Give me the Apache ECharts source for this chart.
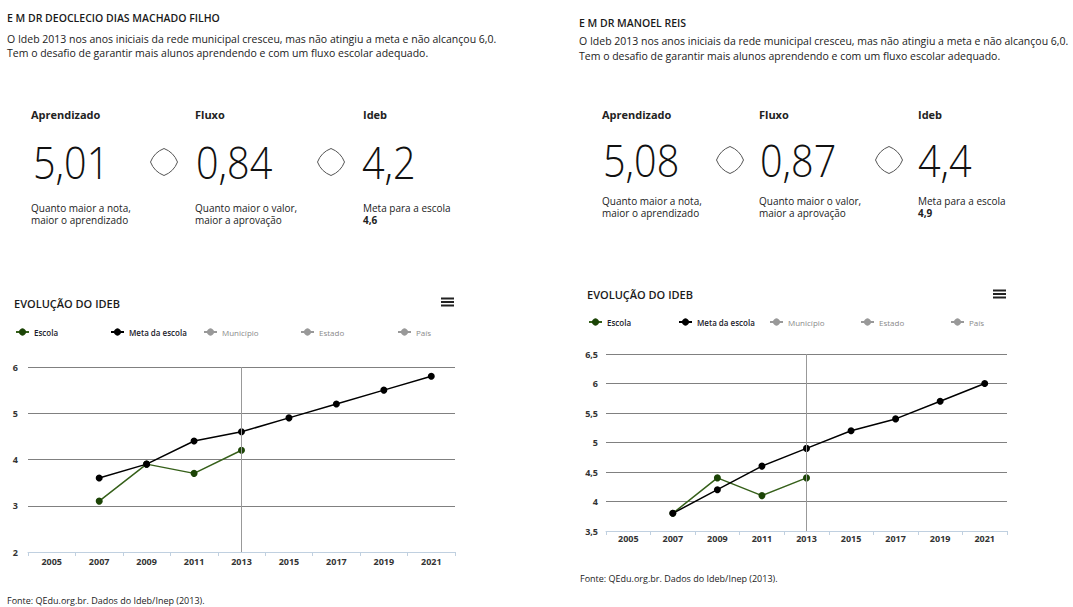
<!DOCTYPE html>
<html>
<head>
<meta charset="utf-8">
<script src="https://cdn.jsdelivr.net/npm/echarts@6/dist/echarts.min.js"></script>
<style>
html,body{margin:0;padding:0;background:#fff;}
#chart{width:1073px;height:607px;}
</style>
</head>
<body>
<div id="chart"></div>
<script>
// ---------- data ----------
const years = ['2005','2007','2009','2011','2013','2015','2017','2019','2021'];
const escolaA = [null, 3.1, 3.9, 3.7, 4.2, null, null, null, null];
const metaA   = [null, 3.6, 3.9, 4.4, 4.6, 4.9, 5.2, 5.5, 5.8];
const escolaB = [null, 3.8, 4.4, 4.1, 4.4, null, null, null, null];
const metaB   = [null, 3.8, 4.2, 4.6, 4.9, 5.2, 5.4, 5.7, 6.0];
const schoolNames = ['E M DR DEOCLECIO DIAS MACHADO FILHO', 'E M DR MANOEL REIS'];
const aprendizado = ['5,01', '5,08'];
const fluxo = ['0,84', '0,87'];
const ideb = ['4,2', '4,4'];
const metaEscola = ['4,6', '4,9'];
const descLines = [
  'O Ideb 2013 nos anos iniciais da rede municipal cresceu, mas não atingiu a meta e não alcançou 6,0.',
  'Tem o desafio de garantir mais alunos aprendendo e com um fluxo escolar adequado.'
];
const legendNames = ['Escola', 'Meta da escola', 'Município', 'Estado', 'País'];
const fonte = 'Fonte: QEdu.org.br. Dados do Ideb/Inep (2013).';

// ---------- layout ----------
const FONT = '"Open Sans", sans-serif';
const panels = [
  { x0: 7, titleY: 18, descY: [38.5, 53], metX: [31, 195, 363], numX: [33, 196, 362],
    labelY: 114.5, numY: 161, subY: [208, 220], dia: [164, 331], diaY: 162,
    chartTitle: [14, 303], burger: [441, 302], legY: 333,
    legX: [15, 110, 203, 300, 397], fonte: [7, 600.5] },
  { x0: 579, titleY: 22.5, descY: [41, 55.5], metX: [602, 759, 918], numX: [603, 760, 918],
    labelY: 114.5, numY: 159, subY: [201, 213], dia: [730, 889], diaY: 160,
    chartTitle: [587, 294], burger: [993, 294], legY: 323,
    legX: [588, 678, 769, 860, 950], fonte: [580, 578] }
];

function txt(x, y, text, size, extra, el) {
  return Object.assign({
    type: 'text', x: x, y: y, silent: true,
    style: Object.assign({ text: text, fontSize: size, fontFamily: FONT, fill: '#222',
      verticalAlign: 'middle', align: 'left' }, extra || {})
  }, el || {});
}

function diamond(cx, cy, r, c) {
  const pts = [[0, -r], [r, 0], [0, r], [-r, 0]];
  const out = [];
  for (let i = 0; i < 4; i++) {
    const a = pts[i], b = pts[(i + 1) % 4];
    const cxp = (a[0] + b[0]) * c, cyp = (a[1] + b[1]) * c;
    out.push({ type: 'bezierCurve', x: cx, y: cy, silent: true,
      shape: { x1: a[0], y1: a[1], x2: b[0], y2: b[1], cpx1: cxp, cpy1: cyp },
      style: { fill: 'none', stroke: '#555', lineWidth: 1 } });
  }
  return out;
}

const graphics = [];
panels.forEach(function (p, i) {
  graphics.push(txt(p.x0, p.titleY, schoolNames[i], 10.5, { fontWeight: 600, fill: '#1a1a1a' }));
  graphics.push(txt(p.x0, p.descY[0], descLines[0], 10.5));
  graphics.push(txt(p.x0, p.descY[1], descLines[1], 10.5));
  const labels = ['Aprendizado', 'Fluxo', 'Ideb'];
  const nums = [aprendizado[i], fluxo[i], ideb[i]];
  for (let k = 0; k < 3; k++) {
    graphics.push(txt(p.metX[k], p.labelY, labels[k], 11, { fontWeight: 'bold' }));
    graphics.push(txt(p.numX[k], p.numY, nums[k], 45, { fontWeight: 300, fill: '#111' }, { scaleX: 0.88 }));
  }
  graphics.push(txt(p.metX[0], p.subY[0], 'Quanto maior a nota,', 10));
  graphics.push(txt(p.metX[0], p.subY[1], 'maior o aprendizado', 10));
  graphics.push(txt(p.metX[1], p.subY[0], 'Quanto maior o valor,', 10));
  graphics.push(txt(p.metX[1], p.subY[1], 'maior a aprovação', 10));
  graphics.push(txt(p.metX[2], p.subY[0], 'Meta para a escola', 10));
  graphics.push(txt(p.metX[2], p.subY[1], metaEscola[i], 10, { fontWeight: 'bold' }));
  p.dia.forEach(function (cx) {
    diamond(cx, p.diaY, 13.5, 0.72).forEach(function (g) { graphics.push(g); });
  });
  graphics.push(txt(p.chartTitle[0], p.chartTitle[1], 'EVOLUÇÃO DO IDEB', 11, { fill: '#1a1a1a', fontWeight: 600 }));
  for (let b = 0; b < 3; b++) {
    graphics.push({ type: 'rect', silent: true,
      shape: { x: p.burger[0], y: p.burger[1] - 4.5 + b * 3.5, width: 13, height: 2 },
      style: { fill: '#222' } });
  }
  graphics.push(txt(p.fonte[0], p.fonte[1], fonte, 9));
});

// ---------- legends ----------
const legends = [];
panels.forEach(function (p) {
  legendNames.forEach(function (name, k) {
    const active = k < 2;
    legends.push({
      left: p.legX[k], top: p.legY - 5, selectedMode: false,
      itemWidth: 13, itemHeight: 9, padding: 0,
      textStyle: { fontSize: 8, fontFamily: FONT, fontWeight: active ? 600 : 'normal',
        color: active ? '#1a1a2a' : '#8a8a8a' },
      data: [name]
    });
  });
});

// ---------- series ----------
function mkSeries(gi, escola, meta) {
  const base = { type: 'line', xAxisIndex: gi, yAxisIndex: gi, symbol: 'circle', symbolSize: 7, silent: true };
  return [
    Object.assign({}, base, { name: 'Escola', data: escola,
      lineStyle: { color: '#36601a', width: 1.5 }, itemStyle: { color: '#1c4406' },
      markLine: { silent: true, symbol: 'none', label: { show: false },
        lineStyle: { color: '#999', type: 'solid', width: 1 },
        data: [{ xAxis: '2013' }] } }),
    Object.assign({}, base, { name: 'Meta da escola', data: meta,
      lineStyle: { color: '#000', width: 1.5 }, itemStyle: { color: '#000' } }),
    Object.assign({}, base, { name: 'Município', data: [], lineStyle: { color: '#999' }, itemStyle: { color: '#999' } }),
    Object.assign({}, base, { name: 'Estado', data: [], lineStyle: { color: '#999' }, itemStyle: { color: '#999' } }),
    Object.assign({}, base, { name: 'País', data: [], lineStyle: { color: '#999' }, itemStyle: { color: '#999' } })
  ];
}

function xAx(gi, margin) {
  return {
    type: 'category', gridIndex: gi, data: years, boundaryGap: true,
    axisLine: { lineStyle: { color: '#C0D0E0', width: 1 } },
    axisTick: { show: true, length: 4, lineStyle: { color: '#C0D0E0' } },
    axisLabel: { margin: margin, fontSize: 9, fontWeight: 'bold', color: '#333', fontFamily: FONT, interval: 0 },
    splitLine: { show: false }
  };
}
function yAx(gi, min, max, step, margin) {
  return {
    type: 'value', gridIndex: gi, min: min, max: max, interval: step,
    axisLine: { show: false }, axisTick: { show: false },
    axisLabel: { margin: margin, fontSize: 9, fontWeight: 'bold', color: '#333', fontFamily: FONT,
      formatter: function (v) { return String(v).replace('.', ','); } },
    splitLine: { lineStyle: { color: '#808080', width: 1 } }
  };
}

const chart = echarts.init(document.getElementById('chart'), null, { renderer: 'svg' });
chart.setOption({
  animation: false,
  backgroundColor: '#fff',
  grid: [
    { left: 28, top: 367, width: 427, height: 185 },
    { left: 606, top: 354, width: 401, height: 177 }
  ],
  xAxis: [xAx(0, 5), xAx(1, 3)],
  yAxis: [yAx(0, 2, 6, 1, 10), yAx(1, 3.5, 6.5, 0.5, 8)],
  legend: legends,
  series: mkSeries(0, escolaA, metaA).concat(mkSeries(1, escolaB, metaB)),
  graphic: graphics
});
</script>
</body>
</html>
